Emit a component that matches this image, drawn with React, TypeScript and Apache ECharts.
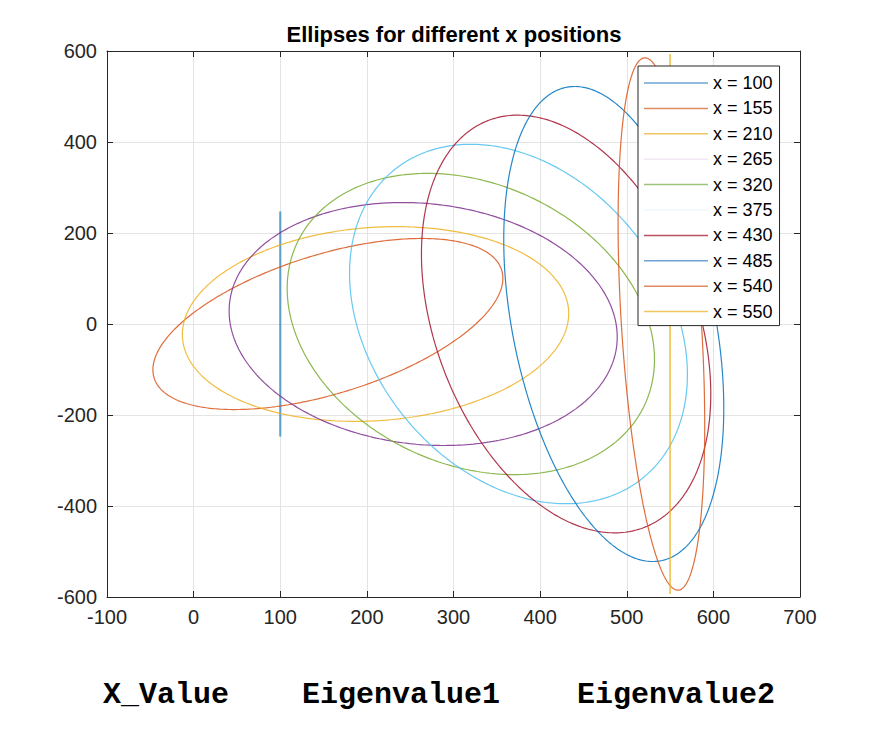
import { useEffect, useRef } from 'react';
import * as echarts from 'echarts';

// centre x of each ellipse, its half width / half height, and the x offset of its top point
const xPositions = [100, 155, 210, 265, 320, 375, 430, 485, 540, 550];
const halfWidths = [0, 202, 223, 224, 212, 195, 167, 127, 50, 0];
const halfHeights = [248, 188, 214, 267, 331, 395, 459, 522, 585, 594];
const topOffsets = [0, 108, 24, -24, -50, -55, -56, -45, -19, 0];

const lineColors = ['#0072BD', '#D95319', '#EDB120', '#7E2F8E', '#77AC30', '#4DBEEE', '#A2142F', '#0072BD', '#D95319', '#EDB120'];
const legendColors = ['#6fa3d4', '#e08a63', '#f0c660', '#f1e8f3', '#9ec47c', '#eef7fd', '#b9525f', '#6fa3d4', '#e08a63', '#f0c660'];
const lineWidths = [2.2, 1.2, 1.2, 1.2, 1.2, 1.2, 1.2, 1.2, 1.2, 1.5];

const footerLabels = ['X_Value', 'Eigenvalue1', 'Eigenvalue2'];
const footerX = [103, 302, 577];

const titleText = 'Ellipses for different x positions';

function ellipsePoints(cx: number, w: number, h: number, off: number) {
  const c = w > 0 ? off / w : 0;
  const s = Math.sqrt(1 - c * c);
  const pts: number[][] = [];
  for (let i = 0; i <= 360; i++) {
    const t = (i * Math.PI) / 180;
    pts.push([cx + w * Math.cos(t), h * (Math.cos(t) * c + Math.sin(t) * s)]);
  }
  return pts;
}

const axisColor = '#262626';
const gridColor = '#e4e4e4';
const font = "'Liberation Sans', Arial, sans-serif";

export default function App() {
  const chartRef = useRef<HTMLDivElement>(null);

  useEffect(() => {
    if (!chartRef.current) return;
    const chart = echarts.init(chartRef.current, null, { renderer: 'svg' });

    const names = xPositions.map((x) => `x = ${x}`);

    const tickStyle = { show: true, inside: true, length: 6, lineStyle: { color: axisColor } };

    chart.setOption({
      animation: false,
      backgroundColor: '#ffffff',
      grid: { left: 107, right: 80, top: 51, bottom: 135 },
      xAxis: [
        {
          type: 'value',
          min: -100,
          max: 700,
          interval: 100,
          position: 'bottom',
          axisLine: { show: true, onZero: false, lineStyle: { color: axisColor } },
          axisTick: tickStyle,
          axisLabel: { color: axisColor, fontSize: 20, fontFamily: font, margin: 10 },
          splitLine: { show: true, lineStyle: { color: gridColor } },
        },
        {
          type: 'value',
          min: -100,
          max: 700,
          interval: 100,
          position: 'top',
          axisLine: { show: true, onZero: false, lineStyle: { color: axisColor } },
          axisTick: tickStyle,
          axisLabel: { show: false },
          splitLine: { show: false },
        },
      ],
      yAxis: [
        {
          type: 'value',
          min: -600,
          max: 600,
          interval: 200,
          position: 'left',
          axisLine: { show: true, onZero: false, lineStyle: { color: axisColor } },
          axisTick: tickStyle,
          axisLabel: { color: axisColor, fontSize: 20, fontFamily: font, margin: 10 },
          splitLine: { show: true, lineStyle: { color: gridColor } },
        },
        {
          type: 'value',
          min: -600,
          max: 600,
          interval: 200,
          position: 'right',
          axisLine: { show: true, onZero: false, lineStyle: { color: axisColor } },
          axisTick: tickStyle,
          axisLabel: { show: false },
          splitLine: { show: false },
        },
      ],
      legend: {
        left: 638,
        top: 66,
        orient: 'vertical',
        padding: [8, 7, 5, 6],
        itemGap: 7.4,
        itemWidth: 64,
        itemHeight: 1.5,
        icon: 'rect',
        backgroundColor: '#ffffff',
        borderColor: axisColor,
        borderWidth: 1,
        selectedMode: false,
        textStyle: { color: '#000000', fontSize: 18, lineHeight: 18, fontFamily: font },
        data: names.map((name, i) => ({ name, itemStyle: { color: legendColors[i] } })),
      },
      graphic: [
        {
          type: 'text',
          x: 454,
          y: 34,
          style: {
            text: titleText,
            fill: '#000000',
            font: `bold 22px ${font}`,
            textAlign: 'center',
            textVerticalAlign: 'middle',
          },
        },
        ...footerLabels.map((label, i) => ({
          type: 'text',
          x: footerX[i],
          y: 695,
          style: {
            text: label,
            fill: '#000000',
            font: "bold 30px 'Liberation Mono', 'Courier New', monospace",
            textAlign: 'left',
            textVerticalAlign: 'middle',
          },
        })),
      ],
      series: xPositions.map((x, i) => ({
        name: names[i],
        type: 'line',
        xAxisIndex: 0,
        yAxisIndex: 0,
        data: ellipsePoints(x, halfWidths[i], halfHeights[i], topOffsets[i]),
        symbol: 'none',
        showSymbol: false,
        clip: true,
        lineStyle: { color: lineColors[i], width: lineWidths[i], opacity: i === 0 ? 0.6 : 0.85 },
        itemStyle: { color: lineColors[i] },
        emphasis: { disabled: true },
      })),
    });

    return () => {
      chart.dispose();
    };
  }, []);

  return (
    <div
      ref={chartRef}
      style={{ position: 'fixed', left: 0, top: 0, width: 880, height: 732, background: '#ffffff' }}
    />
  );
}
